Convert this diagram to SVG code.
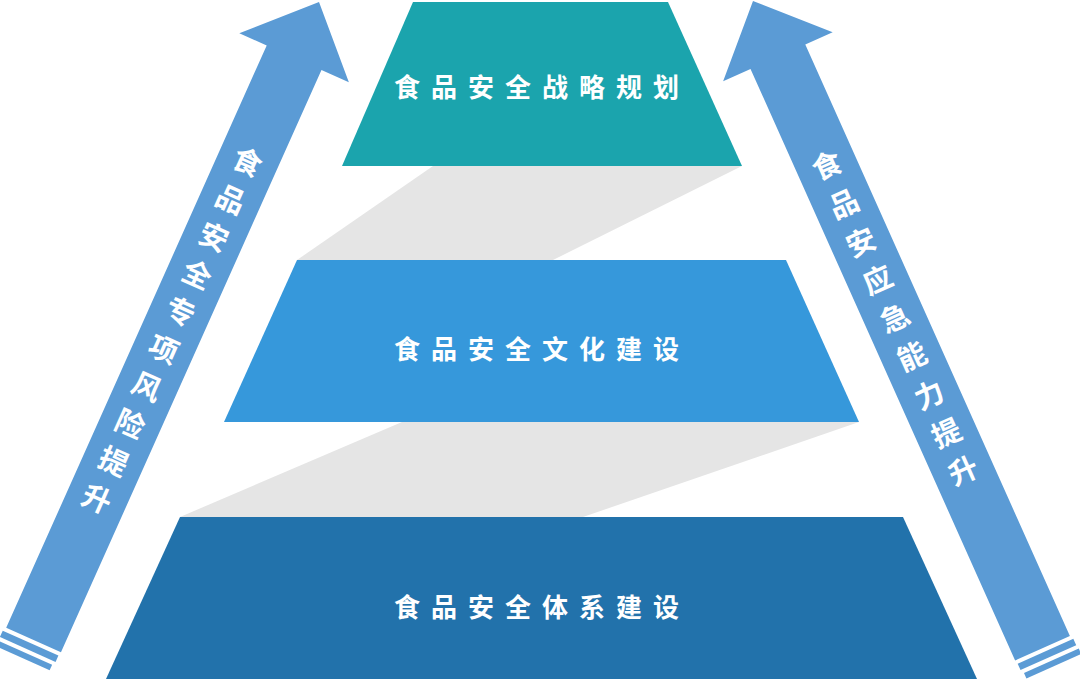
<svg xmlns="http://www.w3.org/2000/svg" width="1080" height="679" viewBox="0 0 1080 679">
  <style>
    .lbl { font-family: "Noto Sans CJK SC", "Noto Sans", sans-serif; font-weight: bold; font-size: 26px; fill: #FFFFFF; letter-spacing: 11px; dominant-baseline: central; }
    .ch { font-family: "Noto Sans CJK SC", "Noto Sans", sans-serif; font-weight: bold; font-size: 29px; fill: #FFFFFF; text-anchor: middle; dominant-baseline: central; }
    .arrow { fill: #5B9BD5; }
    .ribbon { fill: #E5E5E5; }
  </style>
  <rect width="1080" height="679" fill="#FFFFFF"/>
  <g id="connectors">
    <polygon class="ribbon" points="433,166 742,166 553,260 297,260"/>
    <polygon class="ribbon" points="402,422 859,422 583,517 180,517"/>
  </g>
  <g id="node-strategy">
    <polygon points="413,2 668,2 742,166 342,166" fill="#1BA4AD"/>
    <text class="lbl" x="394" y="85">食品安全战略规划</text>
  </g>
  <g id="node-culture">
    <polygon points="297,260 786,260 859,422 224,422" fill="#3698DB"/>
    <text class="lbl" x="394" y="347">食品安全文化建设</text>
  </g>
  <g id="node-system">
    <polygon points="180,517 903,517 977,679 106,679" fill="#2272AB"/>
    <text class="lbl" x="394" y="605">食品安全体系建设</text>
  </g>
  <g id="arrow-left" transform="translate(319,2) rotate(24.1)">
    <path class="arrow" d="M0,0 L60,61 L30,61 L30,699 L-30,699 L-30,61 L-60,61 Z"/>
    <rect class="arrow" x="-32" y="703" width="61" height="7"/>
    <rect class="arrow" x="-33" y="714" width="60" height="6"/>
    <text class="ch" x="0" y="173">食</text>
    <text class="ch" x="0" y="214">品</text>
    <text class="ch" x="0" y="255">安</text>
    <text class="ch" x="0" y="296">全</text>
    <text class="ch" x="0" y="337">专</text>
    <text class="ch" x="0" y="378">项</text>
    <text class="ch" x="0" y="419">风</text>
    <text class="ch" x="0" y="460">险</text>
    <text class="ch" x="0" y="501">提</text>
    <text class="ch" x="0" y="542">升</text>
  </g>
  <g id="arrow-right" transform="translate(753,1) rotate(-24.1)">
    <path class="arrow" d="M0,0 L60,61 L30,61 L30,709 L-30,709 L-30,61 L-60,61 Z"/>
    <rect class="arrow" x="-29" y="713" width="61" height="7"/>
    <rect class="arrow" x="-27" y="724" width="60" height="6"/>
    <text class="ch" x="0" y="178">食</text>
    <text class="ch" x="0" y="220">品</text>
    <text class="ch" x="0" y="262">安</text>
    <text class="ch" x="0" y="303">应</text>
    <text class="ch" x="0" y="345">急</text>
    <text class="ch" x="0" y="387">能</text>
    <text class="ch" x="0" y="429">力</text>
    <text class="ch" x="0" y="471">提</text>
    <text class="ch" x="0" y="512">升</text>
  </g>
</svg>
